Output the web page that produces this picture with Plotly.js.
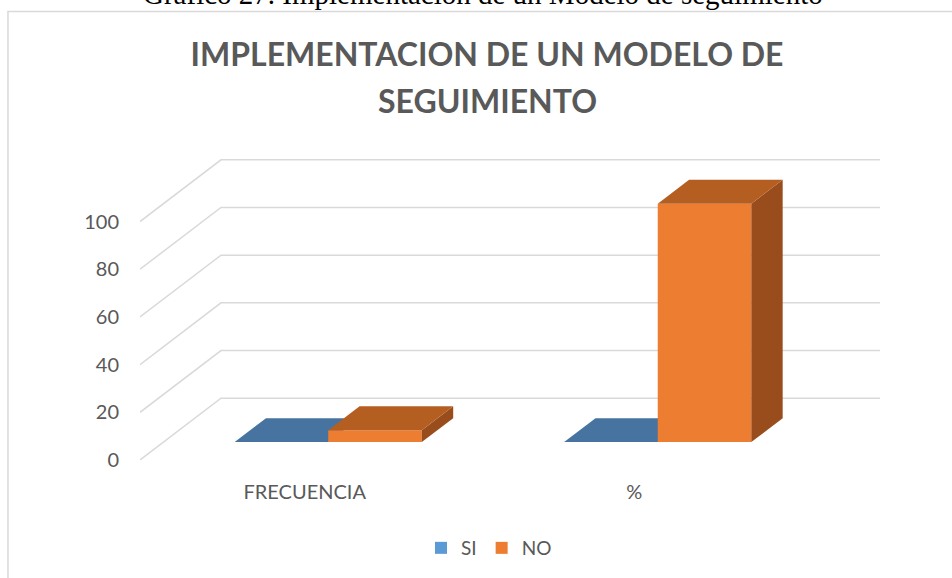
<!DOCTYPE html>
<html>
<head>
<meta charset="utf-8">
<script src="https://cdn.plot.ly/plotly-3.0.1.min.js"></script>
<style>html,body{margin:0;padding:0;background:#fff;}#chart{width:952px;height:578px;}</style>
</head>
<body>
<div id="chart"></div>
<script>
// ---- data ----
const categories = ['FRECUENCIA', '%'];
const seriesNames = ['SI', 'NO'];
const siValues = [0, 0];
const noValues = [5, 100];
const yTicks = [0, 20, 40, 60, 80, 100];
const titleLine1 = 'IMPLEMENTACION DE UN MODELO DE';
const titleLine2 = 'SEGUIMIENTO';
const caption = 'Gráfico 27. Implementación de un Modelo de seguimiento';

// ---- 3D look (style constants) ----
const DX = 0.2458;   // back wall shift in x units
const DY = 25.9;     // back wall shift in y units
const TF = 0.29;     // bar front depth fraction
const TB = 0.677;    // bar back depth fraction
const BW = 0.284;    // bar width in x units

const colSIFront = '#5B9BD5', colSITop = '#4673A0';
const colNOFront = '#ED7D31', colNOTop = '#B55E22', colNOSide = '#9A4D1C';

const idx = categories.map((c, i) => i);

function poly(pts) {
  return 'M' + pts.map(p => p[0] + ',' + p[1]).join('L') + 'Z';
}
function topFace(x0, x1, v) {
  return poly([[x0 + TF * DX, TF * DY + v], [x1 + TF * DX, TF * DY + v],
               [x1 + TB * DX, TB * DY + v], [x0 + TB * DX, TB * DY + v]]);
}
function sideFace(x1, v) {
  return poly([[x1 + TF * DX, TF * DY], [x1 + TF * DX, TF * DY + v],
               [x1 + TB * DX, TB * DY + v], [x1 + TB * DX, TB * DY]]);
}

const shapes = [];
// gridlines: diagonal on left wall + horizontal on back wall
yTicks.forEach(v => {
  shapes.push({type: 'path', xref: 'x', yref: 'y', layer: 'below',
    path: 'M-0.5,' + v + 'L' + (-0.5 + DX) + ',' + (v + DY) + 'L' + (1.5 + DX) + ',' + (v + DY),
    line: {color: '#D9D9D9', width: 1.5}});
});
// SI tops (below traces so NO fronts cover them)
idx.forEach(i => {
  shapes.push({type: 'path', xref: 'x', yref: 'y', layer: 'below',
    path: topFace(i - BW, i, siValues[i]), fillcolor: colSITop, line: {width: 0}});
});
// NO tops and sides
idx.forEach(i => {
  shapes.push({type: 'path', xref: 'x', yref: 'y', layer: 'above',
    path: sideFace(i + BW, noValues[i]), fillcolor: colNOSide, line: {width: 0}});
  shapes.push({type: 'path', xref: 'x', yref: 'y', layer: 'above',
    path: topFace(i, i + BW, noValues[i]), fillcolor: colNOTop, line: {width: 0}});
});
// chart border
shapes.push({type: 'rect', xref: 'paper', yref: 'paper', layer: 'below',
  x0: -0.1784, x1: 1.11, y0: -0.4, y1: 1.447,
  line: {color: '#D9D9D9', width: 1.5}, fillcolor: 'rgba(0,0,0,0)'});

const traces = [
  {type: 'bar', name: seriesNames[0], x: idx.map(i => i + TF * DX), y: siValues,
   base: TF * DY, offset: -BW, width: BW, marker: {color: colSIFront, line: {width: 0}}},
  {type: 'bar', name: seriesNames[1], x: idx.map(i => i + TF * DX), y: noValues,
   base: TF * DY, offset: 0, width: BW, marker: {color: colNOFront, line: {width: 0}}}
];

const titleFont = {family: 'Lato, sans-serif', size: 32, weight: 700, color: '#595959'};

const layout = {
  width: 952, height: 578,
  margin: {l: 140, r: 72, t: 150, b: 117},
  paper_bgcolor: '#fff', plot_bgcolor: 'rgba(0,0,0,0)',
  font: {family: 'Lato, "Open Sans", sans-serif', color: '#595959', size: 20},
  barmode: 'overlay',
  showlegend: true,
  title: {text: titleLine1, x: 487 / 952, xanchor: 'center', xref: 'container',
          y: 1 - 55 / 578, yanchor: 'middle', yref: 'container', font: titleFont},
  xaxis: {range: [-0.5, 1.5 + DX], tickvals: idx, ticktext: categories,
          showgrid: false, zeroline: false, showline: false, ticks: '',
          ticklabelstandoff: 18, tickfont: {size: 20, color: '#595959'}, fixedrange: true},
  yaxis: {range: [0, 130], tickvals: yTicks, showgrid: false, zeroline: false,
          showline: false, ticks: '', ticklabelstandoff: 20,
          tickfont: {size: 20, color: '#595959'}, fixedrange: true},
  legend: {orientation: 'h', x: (489 - 140) / 740, xanchor: 'center',
           y: (461 - 548) / 311, yanchor: 'middle', font: {size: 19, color: '#595959'},
           traceorder: 'normal'},
  shapes: shapes,
  annotations: [
    {text: titleLine2, xref: 'paper', yref: 'paper',
     x: (487 - 140) / 740, y: (461 - 100) / 311, xanchor: 'center', yanchor: 'middle',
     showarrow: false, font: titleFont},
    {text: caption, xref: 'paper', yref: 'paper',
     x: (483 - 140) / 740, y: (461 + 7) / 311, xanchor: 'center', yanchor: 'middle',
     showarrow: false, font: {family: '"Liberation Serif", "Times New Roman", serif', size: 29, color: '#000'}}]
};

Plotly.newPlot('chart', traces, layout, {displayModeBar: false, staticPlot: true});
</script>
</body>
</html>
